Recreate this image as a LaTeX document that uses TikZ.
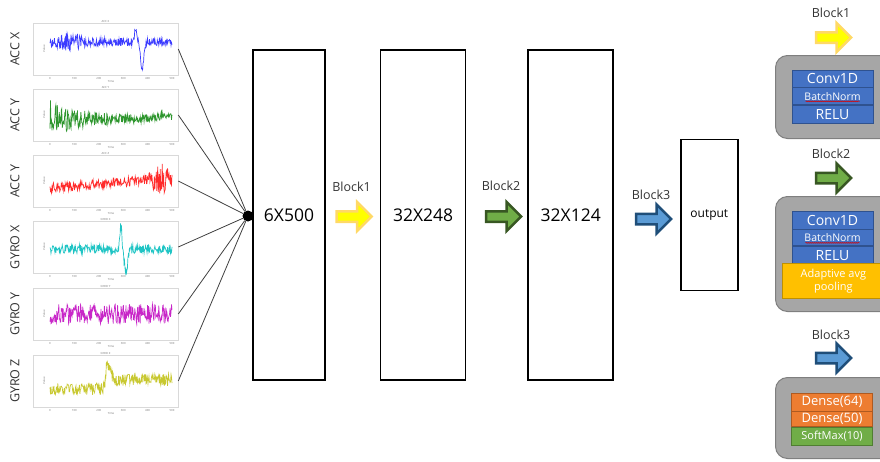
\documentclass[tikz,border=0pt]{standalone}
\usepackage{fontspec}
\setmainfont{Open Sans}
\usetikzlibrary{positioning,calc,shapes.arrows,decorations.pathmorphing}

\definecolor{sigblue}{HTML}{3B3BFF}
\definecolor{siggreen}{HTML}{2E962E}
\definecolor{sigred}{HTML}{FF2A2A}
\definecolor{sigcyan}{HTML}{1FC4C4}
\definecolor{sigmagenta}{HTML}{C827C8}
\definecolor{sigyellow}{HTML}{C8C830}
\definecolor{holdgray}{HTML}{A6A6A6}
\definecolor{holdedge}{HTML}{7F7F7F}
\definecolor{convblue}{HTML}{4472C4}
\definecolor{convedge}{HTML}{2F528F}
\definecolor{poolgold}{HTML}{FFC000}
\definecolor{pooledge}{HTML}{BF9000}
\definecolor{denseorange}{HTML}{ED7D31}
\definecolor{denseedge}{HTML}{AE5A21}
\definecolor{softgreen}{HTML}{70AD47}
\definecolor{softedge}{HTML}{507E32}
\definecolor{arrowyellow}{HTML}{FFFF00}
\definecolor{arrowyedge}{HTML}{FFD966}
\definecolor{arrowgreen}{HTML}{70AD47}
\definecolor{arrowgedge}{HTML}{385723}
\definecolor{arrowblue}{HTML}{5B9BD5}
\definecolor{arrowbedge}{HTML}{1F4E79}

\begin{document}
\begin{tikzpicture}[x=1pt, y=-1pt,
		panel/.style={draw=black!15, line width=0.6pt, minimum width=145pt, minimum height=52pt, inner sep=0pt},
		chan/.style={rotate=90, text=black!80, font=\fontsize{12.5}{12.5}\selectfont},
		ticktext/.style={text=black!55, inner sep=0pt, font=\fontsize{2.8}{2.8}\selectfont},
		wire/.style={draw=black!75, line width=0.8pt},
		hubdot/.style={circle, fill=black, minimum size=11pt, inner sep=0pt},
		layer/.style={draw, line width=1.6pt, inner sep=0pt, font=\fontsize{17.5}{18}\selectfont},
		blocklabel/.style={font=\fontsize{12.5}{13}\selectfont, text=black!80, inner sep=1pt},
		fatarrow/.style={single arrow, single arrow head extend=9.25pt, single arrow head indent=0pt,
			minimum height=35pt, inner sep=4pt, line width=2.5pt},
		holder/.style={fill=holdgray, draw=holdedge, line width=1pt, rounded corners=12pt,
			minimum width=125pt, anchor=north west},
		stage/.style={minimum width=81pt, inner sep=0pt, text=white, line width=0.8pt},
		conv/.style={stage, fill=convblue, draw=convedge},
		pool/.style={stage, fill=poolgold, draw=pooledge, minimum width=102pt, align=center,
			font=\fontsize{11}{13}\selectfont},
		dense/.style={stage, fill=denseorange, draw=denseedge, font=\fontsize{13}{13}\selectfont},
		soft/.style={stage, fill=softgreen, draw=softedge, font=\fontsize{11}{11}\selectfont},
		squiggle/.style={draw=red!85!black, line width=0.5pt, decorate,
			decoration={snake, amplitude=0.5pt, segment length=2pt}}
	]

	\clip (0,0) rectangle (880,461);
	\pgfmathsetseed{7}

	% sensor channels
	\foreach \i/\py/\col/\title/\lab/\base/\amp in {
			1/23/sigblue/ACC X/ACC X/{19-13*exp(-0.3*(\x-86)^2)+27*exp(-0.2*(\x-92)^2)}/{4+5*exp(-0.005*(\x-20)^2)},
			2/89/siggreen/ACC Y/ACC Y/{30-4*exp(-0.01*(\x-115)^2)}/{4+17*exp(-0.04*\x)},
			3/155/sigred/ACC Z/ACC Y/{33-0.08*\x}/{5+11*exp(-0.01*(\x-112)^2)},
			4/221/sigcyan/GYRO X/GYRO X/{28-24*exp(-0.5*(\x-71)^2)+22*exp(-0.15*(\x-76)^2)}/{4.5},
			5/288/sigmagenta/GYRO Y/GYRO Y/{26}/{10},
			6/355/sigyellow/GYRO Z/GYRO Z/{25+9*(\x<56)-14*exp(-0.08*(\x-58)^2)}/{6}} {
		\node[panel] (p\i) at (105.5, \py+26) {};
		\node[chan] at (15, \py+26) {\lab};
		\node[ticktext] at (105.5, \py-2) {\title};
		\node[ticktext, rotate=90] at (44, \py+26) {Value};
		\node[ticktext] at (111, \py+58) {Time};
		\foreach \t [count=\k from 0] in {0,100,200,300,400,500}
			\node[ticktext] at (50+24.4*\k, \py+55) {\t};
		\draw[\col, line width=0.7pt] plot[domain=0:122, samples=250] (50+\x, {\py+(\base)+(\amp)*rand});
	}

	\node[hubdot] (hub) at (248,216) {};
	\foreach \i in {1,...,6}
		\draw[wire] (p\i.east) -- (hub);

	% network layers
	\node[layer, minimum width=72pt, minimum height=330pt] (in) at (289,215) {6X500};
	\node[layer, minimum width=85pt, minimum height=330pt, right=54pt of in] (l2) {32X248};
	\node[layer, minimum width=85pt, minimum height=330pt, right=61pt of l2] (l3) {32X124};
	\node[layer, minimum width=57pt, minimum height=151pt, right=66pt of l3,
		font=\fontsize{12}{12}\selectfont] (out) {output};

	\node[fatarrow, fill=arrowyellow, draw=arrowyedge] (a1) at (351.5,216.5) {};
	\node[blocklabel, above=17pt of a1] {Block1};
	\node[fatarrow, fill=arrowgreen, draw=arrowgedge] (a2) at (501,216.5) {};
	\node[blocklabel, above=18pt of a2] {Block2};
	\node[fatarrow, fill=arrowblue, draw=arrowbedge] (a3) at (651,219) {};
	\node[blocklabel, above=12pt of a3] {Block3};

	% legend: Block1
	\node[fatarrow, fill=arrowyellow, draw=arrowyedge] (k1) at (831,37.5) {};
	\node[blocklabel, above=12pt of k1] {Block1};
	\node[holder, minimum height=83pt] (g1) at (775,55) {};
	\node[conv, minimum height=17pt, font=\fontsize{14}{14}\selectfont] (c1) at (832.5,78.5) {Conv1D};
	\node[conv, minimum height=17pt, font=\fontsize{10.5}{10.5}\selectfont, below=0pt of c1] (bn1) {BatchNorm};
	\node[conv, minimum height=18pt, font=\fontsize{14}{14}\selectfont, below=0pt of bn1] (r1) {RELU};
	\draw[squiggle] ($(bn1.center)+(-27,5)$) -- ($(bn1.center)+(27,5)$);

	% legend: Block2
	\node[fatarrow, fill=arrowgreen, draw=arrowgedge] (k2) at (831,178) {};
	\node[blocklabel, above=12pt of k2] {Block2};
	\node[holder, minimum height=115pt] (g2) at (775,196) {};
	\node[conv, minimum height=18pt, font=\fontsize{14}{14}\selectfont] (c2) at (832.5,220) {Conv1D};
	\node[conv, minimum height=16pt, font=\fontsize{10.5}{10.5}\selectfont, below=0pt of c2] (bn2) {BatchNorm};
	\node[conv, minimum height=18pt, font=\fontsize{14}{14}\selectfont, below=0pt of bn2] (r2) {RELU};
	\node[pool, minimum height=35pt, anchor=north west] (ap) at (782,263) {Adaptive avg\\pooling};
	\draw[squiggle] ($(bn2.center)+(-27,5)$) -- ($(bn2.center)+(27,5)$);

	% legend: Block3
	\node[fatarrow, fill=arrowblue, draw=arrowbedge] (k3) at (831,358) {};
	\node[blocklabel, above=11pt of k3] {Block3};
	\node[holder, minimum height=81pt] (g3) at (775,377) {};
	\node[dense, minimum height=18pt] (d1) at (832,402) {Dense(64)};
	\node[dense, minimum height=15pt, below=0pt of d1] (d2) {Dense(50)};
	\node[soft, minimum height=18pt, below=0pt of d2] (sm) {SoftMax(10)};

\end{tikzpicture}
\end{document}
